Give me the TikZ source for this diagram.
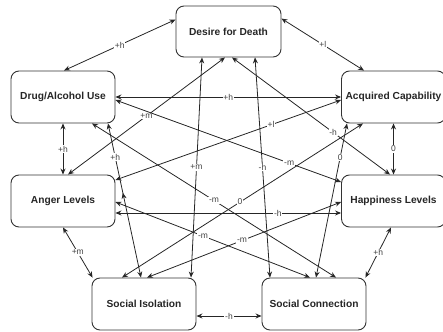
\documentclass[tikz,border=0pt]{standalone}
\usepackage{fontspec}
\setmainfont{Liberation Sans}
\usetikzlibrary{calc,arrows.meta,decorations.markings}
\begin{document}
\begin{tikzpicture}[x=1pt,y=-1pt,
  box/.style={draw=black!80, rounded corners=8pt, fill=white, minimum width=104pt, minimum height=52pt,
    font=\bfseries\fontsize{10.2}{12}\selectfont, text=black!85, line width=0.9pt, inner sep=0pt},
  rel/.style={{Stealth[length=6pt,width=5pt]}-{Stealth[length=6pt,width=5pt]}, line width=0.8pt, draw=black!85},
  lab/.style={fill=white, font=\fontsize{8.5}{10}\selectfont, text=black!75, inner sep=0.8pt},
  midarrow/.style={postaction={decorate}, decoration={markings,
    mark=at position 0.45 with {\arrowreversed{Stealth[length=6pt,width=5pt]}}}}]
\useasboundingbox (0,0) rectangle (443,331);
\node[box, minimum width=105pt, minimum height=51pt] (desire) at (228.5,31.5) {Desire for Death};
\node[box] (drug) at (63,97) {Drug/Alcohol Use};
\node[box] (acq) at (393.5,97) {Acquired Capability};
\node[box] (anger) at (63,201) {Anger Levels};
\node[box] (happ) at (393.5,201) {Happiness Levels};
\node[box] (iso) at (144,304) {Social Isolation};
\node[box] (conn) at (314,304) {Social Connection};

\draw[rel] ($(drug.north)+(1,0)$) -- node[lab]{+h} ($(desire.north west)+(0,14)$);
\draw[rel] ($(desire.north east)+(0,13)$) -- node[lab]{+l} ($(acq.north)+(-29.5,0)$);
\draw[rel] (drug.east) -- node[lab]{+h} (acq.west);
\draw[rel] (drug.south) -- node[lab]{+h} (anger.north);
\draw[rel] (acq.south) -- node[lab]{0} (happ.north);
\draw[rel] ($(anger.east)+(0,12)$) -- node[lab,pos=0.72]{-h} ($(happ.west)+(0,12)$);
\draw[rel] (anger.south) -- node[lab]{+m} ($(iso.north west)+(1,0)$);
\draw[rel] ($(happ.south)+(-2.5,0)$) -- node[lab]{+h} ($(conn.north east)+(-1,0)$);
\draw[rel] ($(iso.east)+(0,12)$) -- node[lab]{-h} ($(conn.west)+(0,12)$);
\draw[rel] ($(anger.north)+(5,0)$) -- node[lab]{+m} ($(desire.south)+(-3.5,0)$);
\draw[rel] ($(iso.north)+(47,0)$) -- node[lab]{+m} ($(desire.south)+(-26.5,0)$);
\draw[rel] ($(conn.north)+(-44,0)$) -- node[lab]{-h} ($(desire.south)+(26.5,0)$);
\draw[rel] ($(happ.north)+(-3.5,0)$) -- node[lab,pos=0.36]{-h} ($(desire.south)+(3.5,0)$);
\draw[rel] ($(drug.east)+(0,3)$) -- node[lab,pos=0.77]{-m} ($(happ.west)+(0,-19)$);
\draw[rel] ($(anger.east)+(0,-21)$) -- node[lab,pos=0.69]{+l} ($(acq.west)+(0,3)$);
\draw[rel, midarrow] ($(drug.south)+(45,0)$) -- node[lab,pos=0.22]{+h} ($(iso.north)+(-3,0)$);
\draw[rel] ($(drug.south)+(29,0)$) -- node[lab]{-m} ($(conn.north)+(22,0)$);
\draw[rel] ($(anger.east)+(0,1)$) -- node[lab,pos=0.45]{-m} ($(conn.north)+(-4,0)$);
\draw[rel] ($(iso.north)+(3,0)$) -- node[lab,pos=0.49]{-m} ($(happ.west)+(0,1)$);
\draw[rel] ($(iso.north)+(-22,0)$) -- node[lab,pos=0.49]{0} ($(acq.south)+(-30.5,0)$);
\draw[rel] ($(conn.north)+(2,0)$) -- node[lab,pos=0.78]{0} ($(acq.south)+(-46.5,0)$);
\end{tikzpicture}
\end{document}
